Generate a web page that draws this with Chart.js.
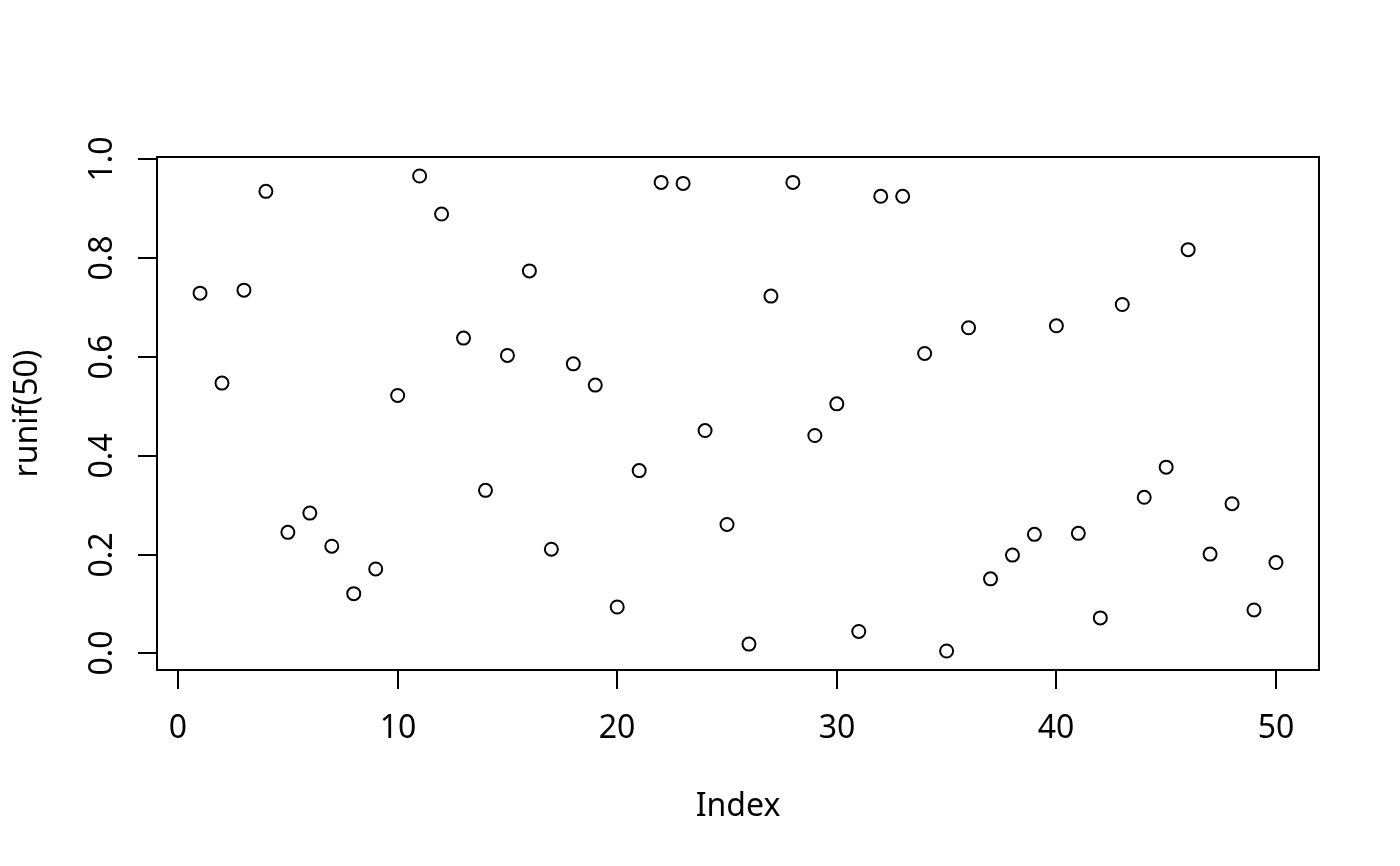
<!DOCTYPE html>
<html>
<head>
<meta charset="utf-8">
<script src="https://cdn.jsdelivr.net/npm/chart.js@4"></script>
<style>
  html, body { margin: 0; padding: 0; background: #fff; }
  #wrap { width: 1400px; height: 866px; }
</style>
</head>
<body>
<div id="wrap"><canvas id="c" width="1400" height="866"></canvas></div>
<script>
// data (runif(50) by index)
const idx = Array.from({ length: 50 }, (_, i) => i + 1);
const vals = [
  0.729, 0.547, 0.735, 0.935, 0.245, 0.284, 0.217, 0.121, 0.171, 0.522,
  0.966, 0.889, 0.638, 0.330, 0.603, 0.774, 0.211, 0.586, 0.543, 0.094,
  0.370, 0.953, 0.951, 0.451, 0.261, 0.019, 0.723, 0.953, 0.441, 0.505,
  0.0445, 0.925, 0.925, 0.607, 0.005, 0.659, 0.151, 0.199, 0.241, 0.663,
  0.243, 0.072, 0.706, 0.316, 0.377, 0.817, 0.201, 0.303, 0.088, 0.184
];
const xTicks = [0, 10, 20, 30, 40, 50];
const yTicks = [0, 0.2, 0.4, 0.6, 0.8, 1.0];
const yTickLabels = ['0.0', '0.2', '0.4', '0.6', '0.8', '1.0'];
const xTitle = 'Index';
const yTitle = 'runif(50)';

// R style 4% range padding
function padRange(arr) {
  const lo = Math.min(...arr), hi = Math.max(...arr);
  const d = (hi - lo) * 0.04;
  return [lo - d, hi + d];
}
const [xMin, xMax] = padRange(idx);
const [yMin, yMax] = padRange(vals);

const FONT = '32px "Noto Sans", "DejaVu Sans", sans-serif';

// base-graphics box, ticks and labels
const rAxes = {
  id: 'rAxes',
  afterDraw(chart) {
    const { ctx, chartArea: a, scales } = chart;
    const sx = scales.x, sy = scales.y;
    ctx.save();
    ctx.strokeStyle = '#000';
    ctx.fillStyle = '#000';
    ctx.lineWidth = 2;
    ctx.strokeRect(a.left, a.top, a.right - a.left, a.bottom - a.top);

    ctx.font = FONT;
    // x axis
    ctx.textAlign = 'center';
    ctx.textBaseline = 'alphabetic';
    xTicks.forEach(t => {
      const px = Math.round(sx.getPixelForValue(t));
      ctx.beginPath();
      ctx.moveTo(px, a.bottom);
      ctx.lineTo(px, a.bottom + 19);
      ctx.stroke();
      ctx.fillText(String(t), px, a.bottom + 68);
    });
    // y axis
    yTicks.forEach((t, i) => {
      const py = Math.round(sy.getPixelForValue(t));
      ctx.beginPath();
      ctx.moveTo(a.left, py);
      ctx.lineTo(a.left - 19, py);
      ctx.stroke();
      ctx.save();
      ctx.translate(a.left - 45, py);
      ctx.rotate(-Math.PI / 2);
      ctx.fillText(yTickLabels[i], 0, 0);
      ctx.restore();
    });
    // titles
    ctx.fillText(xTitle, (a.left + a.right) / 2, a.bottom + 146);
    ctx.save();
    ctx.translate(a.left - 120, (a.top + a.bottom) / 2);
    ctx.rotate(-Math.PI / 2);
    ctx.fillText(yTitle, 0, 0);
    ctx.restore();
    ctx.restore();
  }
};

new Chart(document.getElementById('c'), {
  type: 'scatter',
  data: {
    datasets: [{
      data: idx.map((x, i) => ({ x, y: vals[i] })),
      pointStyle: 'circle',
      pointRadius: 6.5,
      pointHoverRadius: 6.5,
      pointBorderWidth: 2,
      pointBorderColor: '#000',
      pointBackgroundColor: 'rgba(0,0,0,0)',
    }],
  },
  options: {
    responsive: false,
    animation: false,
    devicePixelRatio: 1,
    layout: { padding: { left: 157, top: 157, right: 81, bottom: 196 } },
    plugins: { legend: { display: false }, tooltip: { enabled: false } },
    scales: {
      x: { type: 'linear', display: false, min: xMin, max: xMax },
      y: { type: 'linear', display: false, min: yMin, max: yMax },
    },
  },
  plugins: [rAxes],
});
</script>
</body>
</html>
